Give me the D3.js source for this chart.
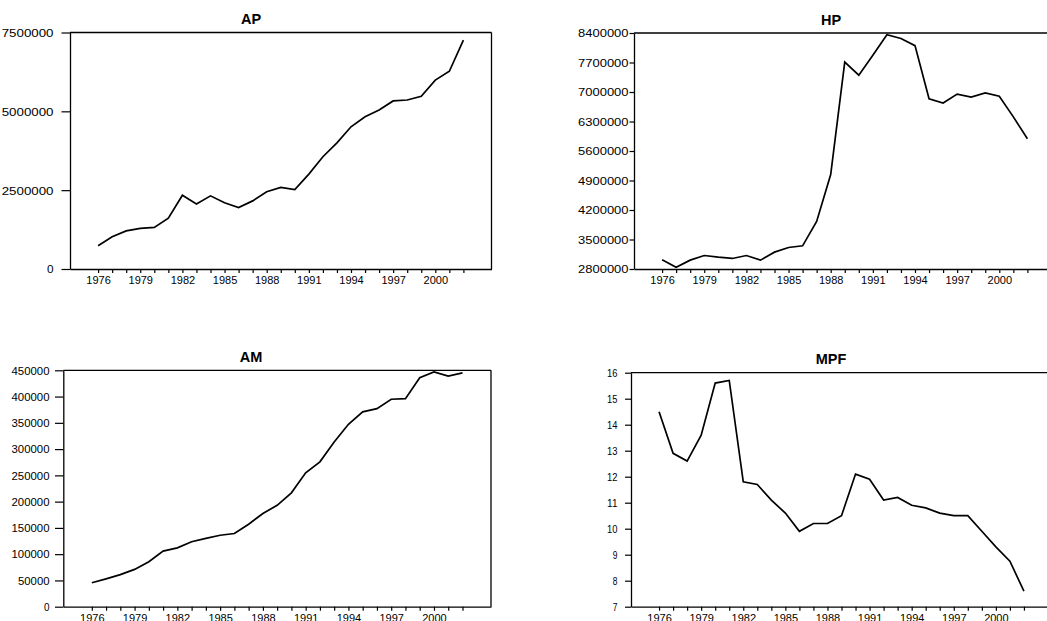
<!DOCTYPE html>
<html><head><meta charset="utf-8">
<script src="https://cdn.jsdelivr.net/npm/d3@7"></script>
<style>body{margin:0;background:#fff;overflow:hidden} svg{display:block}</style>
</head><body><svg id="c" width="1047" height="621"></svg>
<script>
// ---- data ----
const years = [1976,1977,1978,1979,1980,1981,1982,1983,1984,1985,1986,1987,1988,1989,1990,1991,1992,1993,1994,1995,1996,1997,1998,1999,2000,2001,2002];
const xTickLabels = [1976,1979,1982,1985,1988,1991,1994,1997,2000];
const apValues = [740000,1020000,1210000,1290000,1320000,1610000,2340000,2060000,2320000,2100000,1950000,2160000,2450000,2590000,2520000,3010000,3560000,4000000,4510000,4830000,5040000,5330000,5360000,5480000,5990000,6270000,7260000];
const hpValues = [3020000,2840000,3010000,3120000,3080000,3050000,3120000,3010000,3200000,3310000,3350000,3930000,5040000,7710000,7400000,7870000,8360000,8270000,8100000,6840000,6740000,6950000,6880000,6980000,6900000,6410000,5890000];
const amValues = [45600,53000,61000,71000,85600,105800,112000,123600,130000,136000,139400,157000,177500,193000,216800,254800,275700,313700,347300,370800,377000,394900,396000,436000,446800,439000,445000];
const mpfValues = [14.5,12.9,12.6,13.6,15.6,15.7,11.8,11.7,11.1,10.6,9.9,10.2,10.2,10.5,12.1,11.9,11.1,11.2,10.9,10.8,10.6,10.5,10.5,9.9,9.3,8.75,7.6];
const apTicks = [0,2500000,5000000,7500000];
const hpTicks = [2800000,3500000,4200000,4900000,5600000,6300000,7000000,7700000,8400000];
const amTicks = [0,50000,100000,150000,200000,250000,300000,350000,400000,450000];
const mpfTicks = [7,8,9,10,11,12,13,14,15,16];
const titles = ["AP","HP","AM","MPF"];

// ---- layout ----
const panels = [
  {title:titles[0], values:apValues, ticks:apTicks, yDomain:[0,7500000], x0:70, x1:491.5, y0:32.5, y1:269, titleX:251, tickLen:8.5, labelRight:53.5, fs:11, charW:7.55},
  {title:titles[1], values:hpValues, ticks:hpTicks, yDomain:[2800000,8400000], x0:634, x1:1055.5, y0:33, y1:269, titleX:831, tickLen:4.5, labelRight:628.5, fs:10, charW:7.35},
  {title:titles[2], values:amValues, ticks:amTicks, yDomain:[0,450000], x0:63.3, x1:491, y0:370.3, y1:606.7, titleX:251, tickLen:8.3, labelRight:49.5, fs:10.5, charW:6.5},
  {title:titles[3], values:mpfValues, ticks:mpfTicks, yDomain:[7,16], x0:631, x1:1052, y0:372.7, y1:606.7, titleX:831, tickLen:6, labelRight:617.5, fs:10, charW:5.7}
];

const svg = d3.select("#c");
const FONT = "'Liberation Sans', Arial, sans-serif";

panels.forEach(p => {
  const x = d3.scaleLinear().domain([1974, 2004]).range([p.x0, p.x1]);
  const y = d3.scaleLinear().domain(p.yDomain).range([p.y1, p.y0]);
  const g = svg.append("g");

  // frame top & right
  g.append("line").attr("x1", p.x0).attr("x2", p.x1).attr("y1", p.y0).attr("y2", p.y0)
    .attr("stroke", "#000").attr("stroke-width", 1.3);
  g.append("line").attr("x1", p.x1).attr("x2", p.x1).attr("y1", p.y0).attr("y2", p.y1)
    .attr("stroke", "#000").attr("stroke-width", 1.3);

  // y axis
  const ya = g.append("g").attr("transform", `translate(${p.x0},0)`)
    .call(d3.axisLeft(y).tickValues(p.ticks).tickSize(p.tickLen).tickSizeOuter(0).tickFormat(d3.format("d")));
  ya.select(".domain").attr("stroke", "#000").attr("stroke-width", 1.3);
  ya.selectAll(".tick line").attr("stroke", "#000").attr("stroke-width", 1.2);
  ya.selectAll(".tick text")
    .attr("x", -(p.x0 - p.labelRight))
    .attr("dy", "0.36em")
    .attr("text-anchor", "end")
    .attr("font-family", FONT)
    .attr("font-size", p.fs)
    .attr("fill", "#000")
    .each(function() {
      const t = d3.select(this);
      const n = t.text().length;
      t.attr("textLength", n * p.charW - 1).attr("lengthAdjust", "spacingAndGlyphs");
    });

  // x axis
  const xa = g.append("g").attr("transform", `translate(0,${p.y1})`)
    .call(d3.axisBottom(x).tickValues(years).tickSize(4).tickSizeOuter(0)
      .tickFormat(d => xTickLabels.includes(d) ? String(d) : ""));
  xa.select(".domain").attr("stroke", "#000").attr("stroke-width", 1.3);
  xa.selectAll(".tick line").attr("stroke", "#000").attr("stroke-width", 1.2);
  xa.selectAll(".tick text")
    .attr("y", 15).attr("dy", 0)
    .attr("font-family", FONT).attr("font-size", 11).attr("fill", "#000");

  // title
  g.append("text").attr("x", p.titleX).attr("y", p.y0 - 8.5)
    .attr("text-anchor", "middle").attr("font-family", FONT)
    .attr("font-weight", "bold").attr("font-size", 14.5).attr("fill", "#000")
    .text(p.title);

  // series line
  const line = d3.line().x((d, i) => x(years[i])).y(d => y(d));
  g.append("path").datum(p.values).attr("d", line)
    .attr("fill", "none").attr("stroke", "#000").attr("stroke-width", 1.7)
    .attr("stroke-linejoin", "miter");
});
</script>
</body></html>
